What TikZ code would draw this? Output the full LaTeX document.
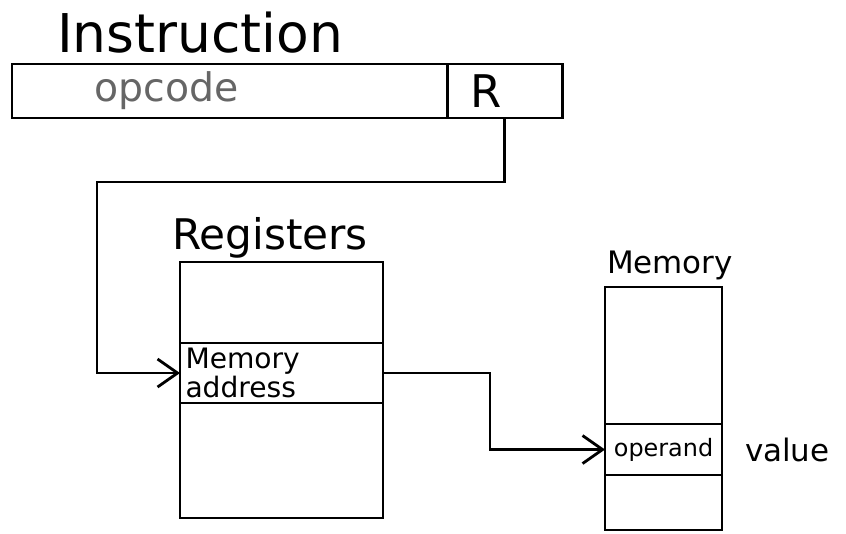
\documentclass[tikz,border=0pt]{standalone}
\usepackage{fontspec}
\setmainfont{DejaVu Sans}
\usetikzlibrary{positioning, arrows.meta}

\begin{document}
\begin{tikzpicture}[
    x=0.025cm, y=-0.025cm,
    >={Straight Barb[length=5mm, width=7mm]},
    cell/.style={
        draw, rectangle, line width=2pt, inner sep=3pt, outer sep=0pt
    },
    title/.style={font=\fontsize{30}{34}\selectfont},
    note/.style={font=\fontsize{20}{21}\selectfont},
    link/.style={line width=2pt}
]

% Canvas
\path[use as bounding box, fill=white] (0,0) rectangle (846,533);

% -------------------------
% Instruction word
% -------------------------
\node[title, font=\fontsize{38}{40}\selectfont] (instrLabel) at (200, 33) {Instruction};

\node[cell, anchor=north west, minimum height=1.35cm, inner xsep=2.07cm,
      text width=6.735cm, align=left, text=black!60,
      font=\fontsize{28}{30}\selectfont] (opcode) at (12, 64) {opcode};
\node[cell, right=0pt of opcode, minimum height=1.35cm, inner xsep=0.58cm,
      text width=1.715cm, align=left,
      font=\fontsize{32}{34}\selectfont] (rcell) {R};

% -------------------------
% Registers
% -------------------------
\node[title] (regLabel) at (270, 238) {Registers};

\node[cell, anchor=north west, minimum width=5.075cm, minimum height=2.025cm] (regTop) at (180, 262) {};
\node[cell, below=0pt of regTop, minimum width=5.075cm, minimum height=1.5cm,
      text width=4.8cm, align=left, note] (regAddr) {Memory\\address};
\node[cell, below=0pt of regAddr, minimum width=5.075cm, minimum height=2.875cm] (regBot) {};

% -------------------------
% Memory
% -------------------------
\node[title, font=\fontsize{22}{26}\selectfont] (memLabel) at (670, 265) {Memory};

\node[cell, anchor=north west, minimum width=2.925cm, minimum height=3.425cm] (memTop) at (605, 287) {};
\node[cell, below=0pt of memTop, minimum width=2.925cm, minimum height=1.275cm,
      note, font=\fontsize{17}{19}\selectfont] (operand) {operand};
\node[cell, below=0pt of operand, minimum width=2.925cm, minimum height=1.375cm] (memBot) {};

\node[note, right=0.45cm of operand, font=\fontsize{22}{24}\selectfont] (valueLabel) {value};

% -------------------------
% Connections
% -------------------------

% R -> register holding the address
\coordinate (bendTop) at (97, 182);
\draw[link, ->] (rcell.south) |- (bendTop) |- (regAddr.west);

% register -> operand in memory
\coordinate (bendMid) at (490, 449);
\draw[link, ->] (regAddr.east) -| (bendMid) |- (operand.west);

\end{tikzpicture}
\end{document}
